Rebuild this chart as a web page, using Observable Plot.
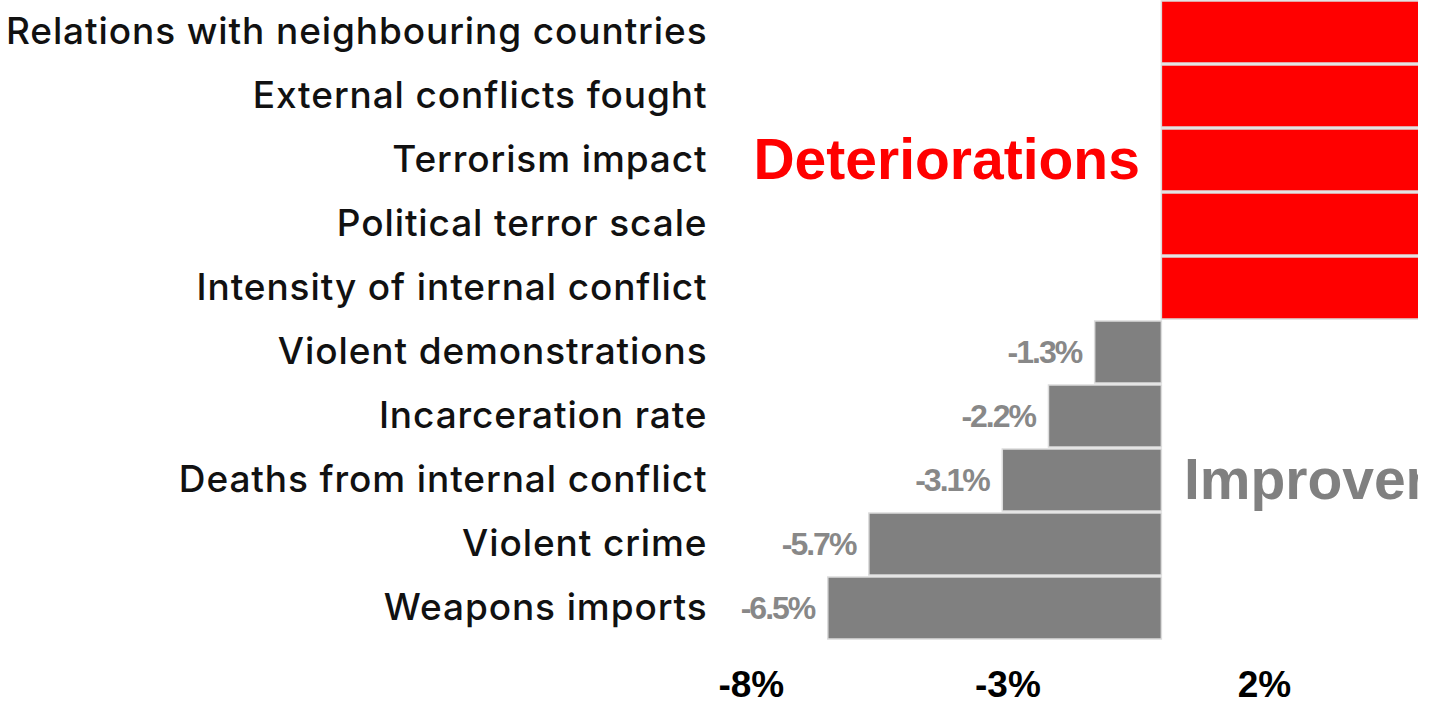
<!DOCTYPE html>
<html>
<head>
<meta charset="utf-8">
<script src="https://cdn.jsdelivr.net/npm/d3@7"></script>
<script src="https://cdn.jsdelivr.net/npm/@observablehq/plot@0.6"></script>
<style>
  html, body { margin: 0; padding: 0; background: #fff; }
  #chart svg { display: block; }
  .vlabels text { letter-spacing: -2px; }
</style>
</head>
<body>
<div id="chart"></div>
<script>
// Indicators, top to bottom
const indicators = [
  "Relations with neighbouring countries",
  "External conflicts fought",
  "Terrorism impact",
  "Political terror scale",
  "Intensity of internal conflict",
  "Violent demonstrations",
  "Incarceration rate",
  "Deaths from internal conflict",
  "Violent crime",
  "Weapons imports"
];
// Percentage change (deteriorations run off the right edge of the chart)
const changes = [11.5, 9.4, 7.8, 6.9, 6.2, -1.3, -2.2, -3.1, -5.7, -6.5];
const xTicks = [-8, -3, 2];

const groupLabels = ["Deteriorations", "Improvements"];
const groupRows = ["Terrorism impact", "Deaths from internal conflict"];

const RED = "#ff0000";
const GREY = "#808080";

const data = indicators.map((name, i) => ({indicator: name, value: changes[i]}));
const worse = data.filter(d => d.value > 0);
const better = data.filter(d => d.value < 0);

const chart = Plot.plot({
  width: 1434,
  height: 704,
  marginTop: 0,
  marginBottom: 64,
  marginLeft: 720,
  marginRight: 16,
  x: {domain: [-8.6, 5], label: null},
  y: {domain: indicators, paddingInner: 0.03, paddingOuter: 0.015, label: null},
  style: {background: "#fff"},
  marks: [
    Plot.barX(worse, {x: "value", y: "indicator", fill: RED, stroke: "#dcdcdc", strokeWidth: 1.5, clip: true}),
    Plot.barX(better, {x: "value", y: "indicator", fill: GREY, stroke: "#dcdcdc", strokeWidth: 1.5, clip: true}),
    Plot.text(better, {
      x: "value", y: "indicator",
      text: d => d.value.toFixed(1) + "%",
      textAnchor: "end", dx: -14,
      fill: "#888888", fontSize: 32, fontWeight: "bold",
      fontFamily: "Liberation Sans, Arial, sans-serif",
      className: "vlabels"
    }),
    Plot.text([0], {
      x: 0, y: () => groupRows[0], text: () => groupLabels[0],
      textAnchor: "end", dx: -22, fill: RED,
      fontSize: 57, fontWeight: "bold", fontFamily: "Liberation Sans, Arial, sans-serif",
      clip: true
    }),
    Plot.text([0], {
      x: 0, y: () => groupRows[1], text: () => groupLabels[1],
      textAnchor: "start", dx: 22, fill: GREY,
      fontSize: 57, fontWeight: "bold", fontFamily: "Liberation Sans, Arial, sans-serif",
      clip: true
    }),
    Plot.axisX({
      ticks: xTicks, tickFormat: d => d + "%", tickSize: 0, tickPadding: 30,
      fontSize: 37, fontWeight: "bold", fontFamily: "Liberation Sans, Arial, sans-serif",
      color: "#000", label: null
    }),
    Plot.axisY({
      tickSize: 0, tickPadding: 13,
      fontSize: 37, fontWeight: 500, fontFamily: "Inter, sans-serif",
      color: "#111", label: null
    })
  ]
});

// widen the category labels' tracking slightly, as in the reference
d3.select(chart).selectAll("text")
  .filter(function () { return indicators.includes(this.textContent); })
  .style("letter-spacing", "0.9px");

document.getElementById("chart").appendChild(chart);
</script>
</body>
</html>
